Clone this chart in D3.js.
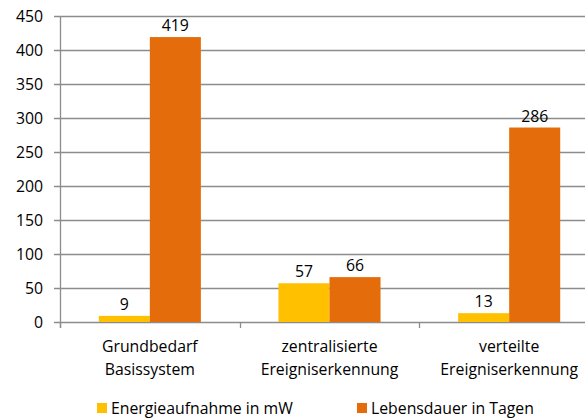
<!DOCTYPE html>
<html lang="de">
<head>
  <meta charset="UTF-8">
  <title>Energieaufnahme und Lebensdauer</title>
  <script src="https://d3js.org/d3.v7.min.js"></script>
  <style>
    body { margin: 0; background: #fff; }
    text { font-family: "Open Sans", sans-serif; fill: #000; }
  </style>
</head>
<body>

<div id="chart"></div>

<script>
  // data
  const categories = [["Grundbedarf", "Basissystem"], ["zentralisierte", "Ereigniserkennung"], ["verteilte", "Ereigniserkennung"]];
  const seriesNames = ["Energieaufnahme in mW", "Lebensdauer in Tagen"];
  const energie = [9, 57, 13];
  const lebensdauer = [419, 66, 286];
  const yTicks = [0, 50, 100, 150, 200, 250, 300, 350, 400, 450];
  const colors = ["#FFC000", "#E46C0A"];

  const width = 585, height = 420;
  const plotLeft = 60, plotTop = 16, plotBottom = 322;
  const plotRight = 599; // last category runs past the picture edge
  const fontSize = "15.8px";

  const svg = d3.select("#chart")
    .append("svg")
    .attr("width", width)
    .attr("height", height);

  const y = d3.scaleLinear().domain([0, 450]).range([plotBottom, plotTop]);

  const x0 = d3.scaleBand()
    .domain(d3.range(categories.length))
    .range([plotLeft, plotRight])
    .padding(0);

  const x1 = d3.scaleBand()
    .domain(d3.range(seriesNames.length))
    .range([0, x0.bandwidth()])
    .paddingInner(0)
    .paddingOuter(0.76);

  // gridlines
  svg.append("g")
    .selectAll("line")
    .data(yTicks)
    .enter()
    .append("line")
    .attr("x1", plotLeft - 6)
    .attr("x2", width)
    .attr("y1", d => Math.round(y(d)) + 0.5)
    .attr("y2", d => Math.round(y(d)) + 0.5)
    .attr("stroke", "#8c8c8c")
    .attr("stroke-width", 1.3);

  // y labels
  svg.append("g")
    .selectAll("text")
    .data(yTicks)
    .enter()
    .append("text")
    .attr("x", 43)
    .attr("y", d => y(d))
    .attr("dy", "0.36em")
    .attr("text-anchor", "end")
    .style("font-size", fontSize)
    .text(d => d);

  // bars
  const data = categories.map((c, i) => [energie[i], lebensdauer[i]]);
  const groups = svg.append("g")
    .selectAll("g")
    .data(data)
    .enter()
    .append("g")
    .attr("transform", (d, i) => `translate(${x0(i)},0)`);

  groups.selectAll("rect")
    .data(d => d)
    .enter()
    .append("rect")
    .attr("x", (d, j) => x1(j))
    .attr("y", d => y(d))
    .attr("width", x1.bandwidth())
    .attr("height", d => plotBottom - y(d))
    .attr("fill", (d, j) => colors[j]);

  groups.selectAll("text")
    .data(d => d)
    .enter()
    .append("text")
    .attr("x", (d, j) => x1(j) + x1.bandwidth() / 2)
    .attr("y", d => y(d) - 6)
    .attr("text-anchor", "middle")
    .style("font-size", fontSize)
    .text(d => d);

  // axes lines
  svg.append("line")
    .attr("x1", plotLeft + 0.5).attr("x2", plotLeft + 0.5)
    .attr("y1", plotTop).attr("y2", plotBottom + 6)
    .attr("stroke", "#8c8c8c").attr("stroke-width", 1.3);

  svg.append("g")
    .selectAll("line")
    .data(d3.range(categories.length + 1))
    .enter()
    .append("line")
    .attr("x1", i => Math.round(i < categories.length ? x0(i) : plotRight) + 0.5)
    .attr("x2", i => Math.round(i < categories.length ? x0(i) : plotRight) + 0.5)
    .attr("y1", plotBottom)
    .attr("y2", plotBottom + 6)
    .attr("stroke", "#8c8c8c").attr("stroke-width", 1.3);

  // category labels
  const catText = svg.append("g")
    .selectAll("text")
    .data(categories)
    .enter()
    .append("text")
    .attr("x", (d, i) => x0(i) + x0.bandwidth() / 2)
    .attr("y", 352)
    .attr("text-anchor", "middle")
    .style("font-size", fontSize);

  catText.selectAll("tspan")
    .data(d => d)
    .enter()
    .append("tspan")
    .attr("x", function() { return this.parentNode.getAttribute("x"); })
    .attr("dy", (d, k) => k === 0 ? 0 : 23)
    .text(d => d);

  // legend
  const legendX = [97, 357];
  const legend = svg.selectAll(".legend")
    .data(seriesNames)
    .enter()
    .append("g")
    .attr("class", "legend")
    .attr("transform", (d, i) => `translate(${legendX[i]}, 403)`);

  legend.append("rect")
    .attr("width", 10)
    .attr("height", 10)
    .attr("fill", (d, i) => colors[i]);

  legend.append("text")
    .attr("x", 14)
    .attr("y", 5)
    .attr("dy", "0.36em")
    .style("font-size", fontSize)
    .text(d => d);
</script>

</body>
</html>
